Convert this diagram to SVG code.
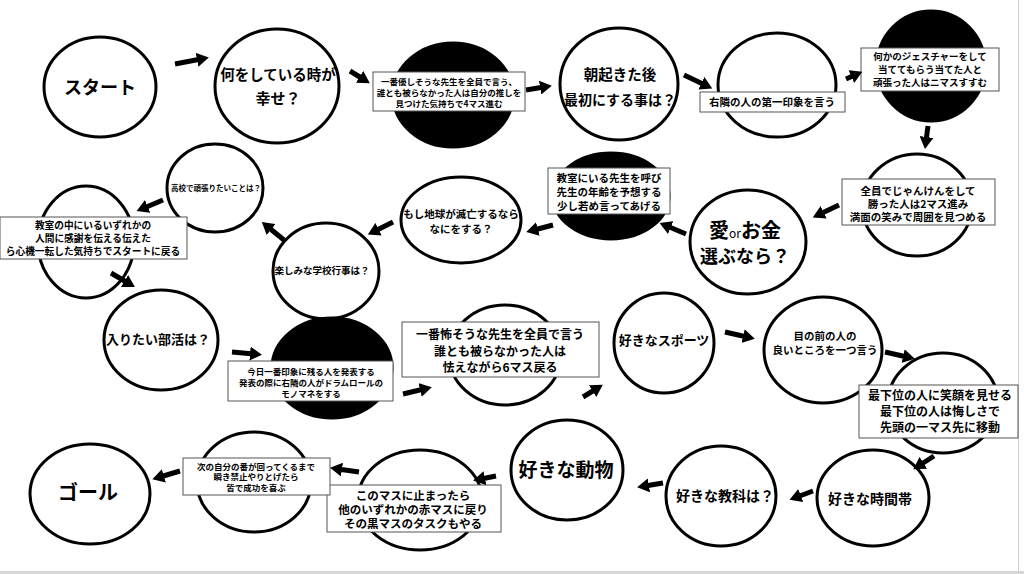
<svg xmlns="http://www.w3.org/2000/svg" width="1024" height="574" viewBox="0 0 1024 574">
<style>
.n{fill:#fff;stroke:#000;stroke-width:3}
.b{fill:#000;stroke:#000;stroke-width:3}
.box{fill:#fff;stroke:#555;stroke-width:1}
text{font-family:"Noto Sans CJK JP","Noto Sans",sans-serif;font-weight:bold;fill:#000;text-anchor:middle}
.c line{stroke:#000;stroke-width:5;marker-end:url(#ah)}
</style>
<defs>
<marker id="ah" viewBox="0 0 12 14" refX="4" refY="7" markerWidth="12" markerHeight="14" markerUnits="userSpaceOnUse" orient="auto">
<path d="M0,0 L12,7 L0,14 z" fill="#000"/>
</marker>
</defs>
<rect x="0" y="0" width="1024" height="574" fill="#fff"/>
<line x1="1018.5" y1="0" x2="1018.5" y2="571" stroke="#cfcfcf" stroke-width="1"/>
<rect x="0" y="571" width="1024" height="3" fill="#d6d6d6"/>

<g id="n1"><ellipse class="n" cx="100" cy="87" rx="56" ry="50"/><text x="100" y="94" font-size="18">スタート</text></g>
<g id="n2"><ellipse class="n" cx="277" cy="86" rx="62" ry="57"/><text x="278" y="80" font-size="14.5">何をしている時が</text><text x="278" y="104" font-size="15">幸せ？</text></g>
<g id="n3"><ellipse class="b" cx="453" cy="95" rx="60" ry="52"/><rect class="box" x="373" y="72" width="152" height="39"/><text x="449" y="85" font-size="8.5">一番優しそうな先生を全員で言う、</text><text x="449" y="96" font-size="8.5">誰とも被らなかった人は自分の推しを</text><text x="449" y="107" font-size="8.5">見つけた気持ちで4マス進む</text></g>
<g id="n4"><ellipse class="n" cx="619" cy="84" rx="59" ry="56"/><text x="620" y="80" font-size="14.5">朝起きた後</text><text x="620" y="105" font-size="14">最初にする事は？</text></g>
<g id="n5"><ellipse class="n" cx="777" cy="85" rx="59" ry="52"/><rect class="box" x="700" y="92" width="145" height="20"/><text x="772" y="106" font-size="10.5">右隣の人の第一印象を言う</text></g>
<g id="n6"><ellipse class="b" cx="931" cy="66" rx="54" ry="55"/><rect class="box" x="861" y="48" width="138" height="43"/><text x="930" y="60" font-size="9.5">何かのジェスチャーをして</text><text x="930" y="73" font-size="9.5">当ててもらう当てた人と</text><text x="930" y="86" font-size="9.5">頑張った人はニマスすすむ</text></g>
<g id="n7"><ellipse class="n" cx="917" cy="205" rx="55" ry="51"/><rect class="box" x="842" y="179" width="153" height="46"/><text x="918" y="195" font-size="10.5">全員でじゃんけんをして</text><text x="918" y="208" font-size="10.5">勝った人は2マス進み</text><text x="918" y="221" font-size="10.5">満面の笑みで周囲を見つめる</text></g>
<g id="n8"><ellipse class="n" cx="748" cy="242" rx="58" ry="52"/><text x="745" y="238" font-size="20">愛<tspan font-size="12" font-weight="normal">or</tspan>お金</text><text x="745" y="263" font-size="18">選ぶなら？</text></g>
<g id="n9"><ellipse class="b" cx="611" cy="196" rx="58" ry="43"/><rect class="box" x="548" y="168" width="122" height="46"/><text x="609" y="182" font-size="10.5">教室にいる先生を呼び</text><text x="609" y="196" font-size="10.5">先生の年齢を予想する</text><text x="609" y="210" font-size="10.5">少し若め言ってあげる</text></g>
<g id="n10"><ellipse class="n" cx="461" cy="220" rx="60" ry="43"/><text x="461" y="218" font-size="10.5">もし地球が滅亡するなら</text><text x="461" y="233" font-size="10.5">なにをする？</text></g>
<g id="n11"><ellipse class="n" cx="326" cy="271" rx="53" ry="48"/><text x="322" y="274" font-size="9.5">楽しみな学校行事は？</text></g>
<g id="n12"><ellipse class="n" cx="215" cy="188" rx="48" ry="44"/><text x="216" y="191" font-size="7.5">高校で頑張りたいことは？</text></g>
<g id="n13"><ellipse class="n" cx="86" cy="242" rx="48" ry="56"/><rect class="box" x="0" y="217" width="187" height="42"/><text x="93" y="229" font-size="9.7">教室の中にいるいずれかの</text><text x="93" y="242" font-size="9.7">人間に感謝を伝える伝えた</text><text x="93" y="255" font-size="9.7">ら心機一転した気持ちでスタートに戻る</text></g>
<g id="n14"><ellipse class="n" cx="161" cy="340" rx="57" ry="50"/><text x="158" y="344" font-size="13">入りたい部活は？</text></g>
<g id="n15"><ellipse class="b" cx="332" cy="368" rx="60" ry="50"/><rect class="box" x="228" y="361" width="165" height="40"/><text x="311" y="375" font-size="8.5">今日一番印象に残る人を発表する</text><text x="311" y="386" font-size="8.5">発表の際に右隣の人がドラムロールの</text><text x="311" y="397" font-size="8.5">モノマネをする</text></g>
<g id="n16"><ellipse class="n" cx="505" cy="355" rx="56" ry="50"/><rect class="box" x="402" y="322" width="197" height="55"/><text x="500" y="339" font-size="12">一番怖そうな先生を全員で言う</text><text x="500" y="356" font-size="12">誰とも被らなかった人は</text><text x="500" y="372" font-size="12">怯えながら6マス戻る</text></g>
<g id="n17"><ellipse class="n" cx="664" cy="343" rx="50" ry="50"/><text x="664" y="345" font-size="13">好きなスポーツ</text></g>
<g id="n18"><ellipse class="n" cx="823" cy="350" rx="59" ry="53"/><text x="825" y="340" font-size="10.5">目の前の人の</text><text x="825" y="354" font-size="10.5">良いところを一つ言う</text></g>
<g id="n19"><ellipse class="n" cx="943" cy="403" rx="55" ry="50"/><rect class="box" x="859" y="385" width="159" height="53"/><text x="940" y="400" font-size="12">最下位の人に笑顔を見せる</text><text x="940" y="416" font-size="12">最下位の人は悔しさで</text><text x="940" y="432" font-size="12">先頭の一マス先に移動</text></g>
<g id="n20"><ellipse class="n" cx="873" cy="498" rx="56" ry="48"/><text x="870" y="504" font-size="14">好きな時間帯</text></g>
<g id="n21"><ellipse class="n" cx="721" cy="496" rx="55" ry="50"/><text x="725" y="501" font-size="14">好きな教科は？</text></g>
<g id="n22"><ellipse class="n" cx="567" cy="470" rx="56" ry="50"/><text x="566" y="477" font-size="19">好きな動物</text></g>
<g id="n23"><ellipse class="n" cx="420" cy="500" rx="62" ry="50"/><rect class="box" x="327" y="485" width="174" height="47"/><text x="413" y="500" font-size="11.5">このマスに止まったら</text><text x="413" y="514" font-size="11.5">他のいずれかの赤マスに戻り</text><text x="413" y="528" font-size="11.5">その黒マスのタスクもやる</text></g>
<g id="n24"><ellipse class="n" cx="254" cy="482" rx="57" ry="50"/><rect class="box" x="183" y="458" width="147" height="37"/><text x="256" y="470" font-size="8.5">次の自分の番が回ってくるまで</text><text x="256" y="480" font-size="8.5">瞬き禁止やりとげたら</text><text x="256" y="491" font-size="8.5">皆で成功を喜ぶ</text></g>
<g id="n25"><ellipse class="n" cx="90" cy="494" rx="60" ry="50"/><text x="88" y="500" font-size="20">ゴール</text></g>

<g id="connectors" class="c">
<line x1="175" y1="64" x2="201" y2="59"/>
<line x1="350" y1="71" x2="363" y2="79"/>
<line x1="526" y1="90" x2="544" y2="87"/>
<line x1="684" y1="75" x2="705" y2="85"/>
<line x1="846" y1="79" x2="855" y2="75"/>
<line x1="928" y1="126" x2="926" y2="141"/>
<line x1="839" y1="205" x2="820" y2="214"/>
<line x1="686" y1="234" x2="667" y2="226"/>
<line x1="553" y1="225" x2="534" y2="230"/>
<line x1="393" y1="222" x2="375" y2="231"/>
<line x1="284" y1="240" x2="268" y2="227"/>
<line x1="163" y1="200" x2="144" y2="208"/>
<line x1="111" y1="273" x2="128" y2="283"/>
<line x1="232" y1="352" x2="254" y2="354"/>
<line x1="403" y1="394" x2="424" y2="389"/>
<line x1="583" y1="397" x2="596" y2="389"/>
<line x1="725" y1="332" x2="747" y2="337"/>
<line x1="885" y1="352" x2="907" y2="357"/>
<line x1="934" y1="456" x2="920" y2="465"/>
<line x1="813" y1="491" x2="797" y2="497"/>
<line x1="663" y1="483" x2="645" y2="486"/>
<line x1="496" y1="476" x2="481" y2="479"/>
<line x1="359" y1="472" x2="338" y2="469"/>
<line x1="180" y1="471" x2="160" y2="477"/>
</g>
</svg>
